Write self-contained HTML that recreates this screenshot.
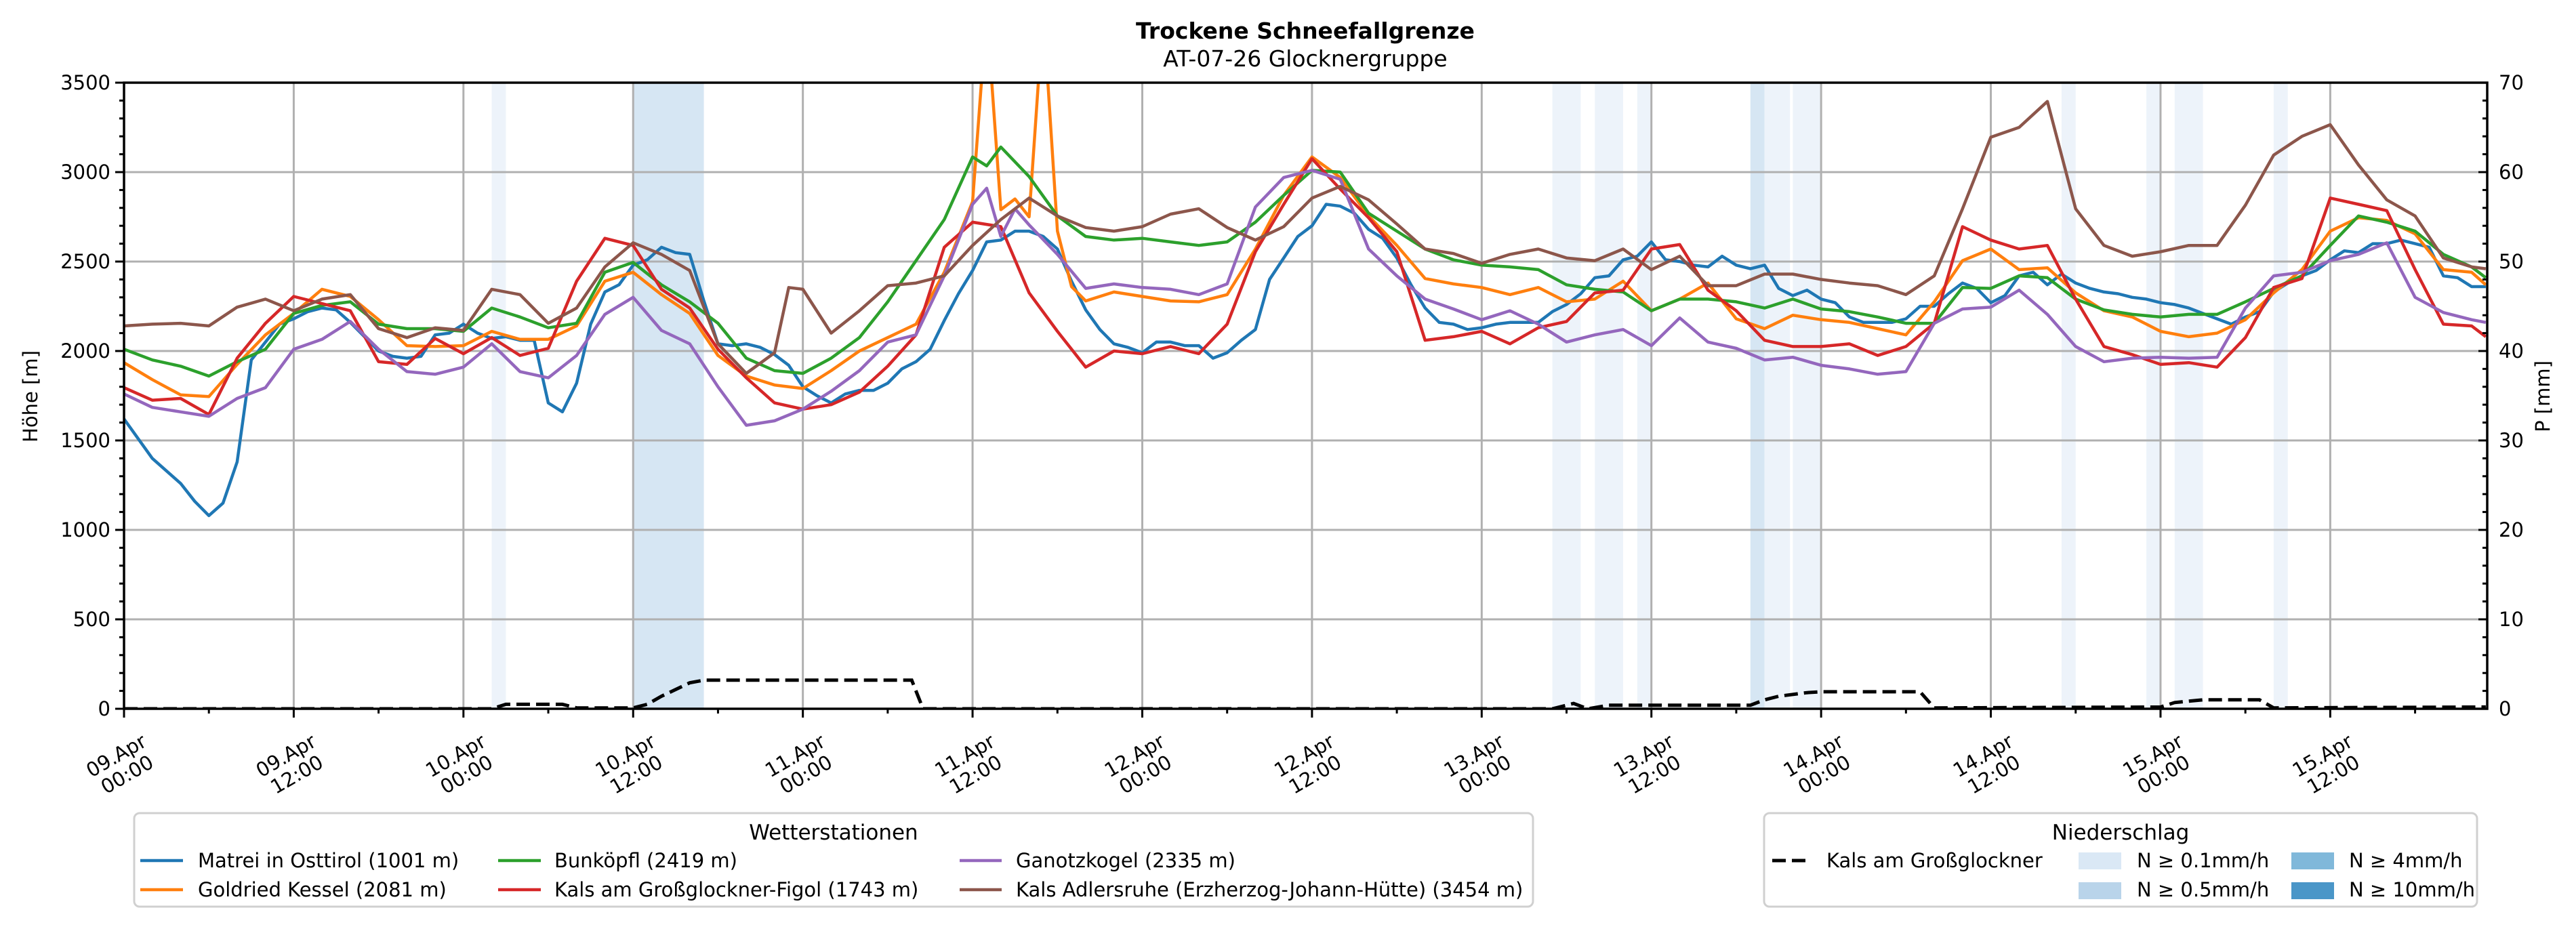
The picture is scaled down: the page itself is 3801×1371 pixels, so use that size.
<!DOCTYPE html>
<html><head><meta charset="utf-8">
<style>
html,body{margin:0;padding:0;background:#fff;}
svg{display:block;font-family:"DejaVu Sans","Liberation Sans",sans-serif;}
</style></head>
<body>
<svg id="chart" width="3801" height="1371" viewBox="0 0 3801 1371" xmlns="http://www.w3.org/2000/svg">
  <defs><clipPath id="plotclip"><rect x="183" y="122" width="3487" height="924"/></clipPath></defs>
  <rect width="3801" height="1371" fill="#fff"/>
  <g id="bands" clip-path="url(#plotclip)"></g>
  <g id="grid"></g>
  <g id="series" clip-path="url(#plotclip)"></g>
  <g id="axes"></g>
  <text x="1926" y="57" text-anchor="middle" font-size="33" font-weight="bold">Trockene Schneefallgrenze</text>
  <text x="1926" y="98" text-anchor="middle" font-size="33">AT-07-26 Glocknergruppe</text>
  <text transform="translate(55,585) rotate(-90)" text-anchor="middle" font-size="29">Höhe [m]</text>
  <text transform="translate(3762,585) rotate(-90)" text-anchor="middle" font-size="29">P [mm]</text>

  <g>
    <rect x="198" y="1200" width="2064" height="138" rx="8" fill="#fff" fill-opacity="0.8" stroke="#d0d0d0" stroke-width="3"/>
    <text x="1230" y="1239" text-anchor="middle" font-size="31">Wetterstationen</text>
    <g><line x1="207" y1="1270" x2="270" y2="1270" stroke="#1f77b4" stroke-width="4.5"/><text x="292" y="1280" font-size="29">Matrei in Osttirol (1001 m)</text></g>
    <g><line x1="207" y1="1313" x2="270" y2="1313" stroke="#ff7f0e" stroke-width="4.5"/><text x="292" y="1323" font-size="29">Goldried Kessel (2081 m)</text></g>
    <g><line x1="735" y1="1270" x2="798" y2="1270" stroke="#2ca02c" stroke-width="4.5"/><text x="818" y="1280" font-size="29">Bunköpfl (2419 m)</text></g>
    <g><line x1="735" y1="1313" x2="798" y2="1313" stroke="#d62728" stroke-width="4.5"/><text x="818" y="1323" font-size="29">Kals am Großglockner-Figol (1743 m)</text></g>
    <g><line x1="1416" y1="1270" x2="1478" y2="1270" stroke="#9467bd" stroke-width="4.5"/><text x="1499" y="1280" font-size="29">Ganotzkogel (2335 m)</text></g>
    <g><line x1="1416" y1="1313" x2="1478" y2="1313" stroke="#8c564b" stroke-width="4.5"/><text x="1499" y="1323" font-size="29">Kals Adlersruhe (Erzherzog-Johann-Hütte) (3454 m)</text></g>
  </g>

  <g>
    <rect x="2603" y="1200" width="1052" height="138" rx="8" fill="#fff" fill-opacity="0.8" stroke="#d0d0d0" stroke-width="3"/>
    <text x="3129" y="1239" text-anchor="middle" font-size="31">Niederschlag</text>
    <g><line x1="2615" y1="1270" x2="2672" y2="1270" stroke="#000" stroke-width="5" stroke-dasharray="20,9"/><text x="2695" y="1280" font-size="29">Kals am Großglockner</text></g>
    <g><rect x="3067" y="1258" width="63" height="25" fill="#dae8f5"/><text x="3153" y="1280" font-size="29">N ≥ 0.1mm/h</text></g>
    <g><rect x="3067" y="1302" width="63" height="25" fill="#b9d4ea"/><text x="3153" y="1323" font-size="29">N ≥ 0.5mm/h</text></g>
    <g><rect x="3381" y="1258" width="63" height="25" fill="#80b8da"/><text x="3466" y="1280" font-size="29">N ≥ 4mm/h</text></g>
    <g><rect x="3381" y="1302" width="63" height="25" fill="#4a96c8"/><text x="3466" y="1323" font-size="29">N ≥ 10mm/h</text></g>
  </g>
</svg>
<script>
// ---- data ----
const hoursMatrei = Array.from({length:168},(_,i)=>i);
const matrei = [1620,1510,1400,1330,1260,1160,1080,1150,1380,1950,2050,2150,2180,2220,2240,2230,2160,2080,2000,1970,1960,1970,2090,2100,2150,2100,2070,2080,2060,2060,1710,1660,1820,2150,2330,2370,2480,2510,2580,2550,2540,2280,2040,2030,2040,2020,1980,1920,1800,1750,1710,1760,1780,
1780,1820,1900,1940,2010,2170,2320,2450,2610,2620,2670,2670,2640,2570,2390,2230,2120,2040,2020,1990,2050,2050,2030,2030,1960,1990,2060,2120,2400,2520,2640,2700,2820,2810,2770,2680,2630,2520,2370,2240,2160,2150,2120,2130,2150,2160,2160,2160,2220,2260,2320,2410,2420,2510,2530,2610,2510,2500,2480,
2470,2530,2480,2460,2480,2350,2310,2340,2290,2270,2190,2160,2160,2160,2180,2250,2250,2320,2380,2350,2270,2310,2420,2440,2370,2430,2380,2350,2330,2320,2300,2290,2270,2260,2240,2210,2180,2150,2190,2220,2330,2380,2420,2450,2510,2560,2550,2600,2600,2620,2600,2580,2420,2410,2360,2360];

const hoursGoldried = [0,2,4,6,8,10,12,14,16,18,20,22,24,26,28,30,32,34,36,38,40,42,44,46,48,50,52,54,56,58,60,61,62,63,64,65,66,67,68,70,72,74,76,78,80,82,84,86,88,90,92,94,96,98,100,102,104,106,108,110,112,114,116,118,120,122,124,126,128,130,132,134,136,138,140,142,144,146,148,150,152,154,156,158,160,162,164,166,167];
const goldried = [1935,1840,1755,1745,1925,2090,2210,2345,2305,2175,2030,2025,2030,2110,2065,2065,2140,2390,2440,2315,2210,1975,1860,1810,1790,1890,2000,2075,2150,2440,2835,3900,2790,2850,2750,3900,2670,2360,2280,2330,2305,2280,2275,2315,2570,2870,3085,2970,2755,2590,2405,2375,2355,2315,2355,2275,2290,2390,2225,2290,2380,2180,2125,2200,2175,2160,2125,2090,2275,2505,2570,2455,2465,2325,2225,2190,2110,2080,2100,2175,2325,2455,2670,2745,2730,2655,2455,2440,2370];

const hoursBunkoepfl = [0,2,4,6,8,10,12,14,16,18,20,22,24,26,28,30,32,34,36,38,40,42,44,46,48,50,52,54,56,58,60,61,62,64,66,68,70,72,74,76,78,80,82,84,86,88,90,92,94,96,98,100,102,104,106,108,110,112,114,116,118,120,122,124,126,128,130,132,134,136,138,140,142,144,146,148,150,152,154,156,158,160,162,164,166,167];
const bunkoepfl = [2010,1950,1915,1860,1940,2010,2210,2255,2275,2150,2125,2125,2110,2240,2190,2130,2155,2440,2495,2370,2275,2155,1960,1890,1875,1960,2075,2275,2505,2735,3085,3035,3140,2975,2755,2640,2620,2630,2610,2590,2610,2720,2870,3010,3000,2770,2670,2570,2510,2480,2470,2455,2370,2345,2330,2225,2290,2290,2275,2240,2290,2235,2220,2190,2155,2155,2355,2350,2420,2410,2290,2230,2205,2190,2205,2205,2275,2350,2420,2590,2755,2720,2670,2540,2470,2410];

const hoursFigol = [0,2,4,6,8,10,12,14,16,18,20,22,24,26,28,30,32,34,36,38,40,42,44,46,48,50,52,54,56,58,60,62,64,66,68,70,72,74,76,78,80,82,84,86,88,90,92,94,96,98,100,102,104,106,108,110,112,114,116,118,120,122,124,126,128,130,132,134,136,138,140,142,144,146,148,150,152,154,156,158,160,162,164,166,167];
const figol = [1795,1725,1735,1645,1960,2155,2305,2265,2225,1940,1925,2070,1985,2075,1975,2015,2390,2630,2590,2345,2240,2010,1850,1710,1675,1700,1770,1915,2090,2580,2720,2695,2325,2110,1910,2000,1985,2025,1985,2150,2555,2820,3075,2905,2745,2555,2060,2080,2110,2040,2130,2165,2325,2340,2570,2595,2340,2225,2060,2025,2025,2040,1975,2025,2155,2695,2620,2570,2590,2290,2025,1980,1925,1935,1910,2075,2355,2405,2855,2820,2785,2455,2150,2140,2080];

const hoursGanotz = [0,2,4,6,8,10,12,14,16,18,20,22,24,26,28,30,32,34,36,38,40,42,44,46,48,50,52,54,56,58,60,61,62,63,64,66,68,70,72,74,76,78,80,82,84,86,88,90,92,94,96,98,100,102,104,106,108,110,112,114,116,118,120,122,124,126,128,130,132,134,136,138,140,142,144,146,148,150,152,154,156,158,160,162,164,166,167];
const ganotz = [1760,1685,1660,1635,1735,1795,2010,2065,2165,2010,1885,1870,1910,2040,1885,1850,1975,2205,2300,2115,2040,1800,1585,1610,1675,1775,1890,2050,2090,2420,2820,2910,2640,2795,2705,2540,2350,2375,2355,2345,2315,2375,2805,2970,3010,2960,2570,2420,2290,2235,2175,2225,2150,2050,2090,2120,2030,2185,2050,2015,1950,1965,1920,1900,1870,1885,2155,2235,2245,2340,2205,2025,1940,1960,1965,1960,1965,2240,2420,2440,2505,2540,2605,2300,2215,2175,2160];

const hoursAdler = [0,2,4,6,8,10,12,14,16,18,20,22,24,26,28,30,32,34,36,38,40,42,44,46,47,48,50,52,54,56,58,60,62,64,66,68,70,72,74,76,78,80,82,84,86,88,90,92,94,96,98,100,102,104,106,108,110,112,114,116,118,120,122,124,126,128,130,132,134,136,138,140,142,144,146,148,150,152,154,156,158,160,162,164,166,167];
const adler = [2140,2150,2155,2140,2245,2290,2225,2290,2315,2125,2075,2130,2115,2345,2315,2155,2240,2470,2605,2540,2450,2040,1875,1990,2355,2345,2100,2225,2365,2380,2420,2590,2735,2855,2755,2690,2670,2695,2765,2795,2690,2620,2695,2855,2920,2845,2710,2570,2545,2490,2540,2570,2520,2505,2570,2455,2530,2365,2365,2430,2430,2400,2380,2365,2315,2420,2795,3195,3250,3395,2795,2590,2530,2555,2590,2590,2815,3095,3200,3265,3040,2845,2755,2520,2470,2460];

const precipHours = [0,26,27,31,32,36,37,38,40,41,55.7,56.5,101,102.5,103.5,105,113,115,116,117,119,120,127,128,144,145,147,151,152,167];
const precipMm = [0,0,0.5,0.5,0.1,0.1,0.5,1.4,2.9,3.2,3.2,0,0,0.6,0,0.4,0.4,0.4,1.0,1.4,1.8,1.9,1.9,0.1,0.2,0.7,1.0,1.0,0.1,0.2];

const bandStart = [26,36,101,104,107,115,116,118,137,143,145,152];
const bandEnd   = [27,41,103,106,108,116,117.8,120,138,144,147,153];
const bandLevel = [1,2,1,1,1,2,1,1,1,1,1,1];

const yTicks = [0,500,1000,1500,2000,2500,3000,3500];
const pTicks = [0,10,20,30,40,50,60,70];
const xTickHours = [0,12,24,36,48,60,72,84,96,108,120,132,144,156];
const xTickDay = ["09.Apr","09.Apr","10.Apr","10.Apr","11.Apr","11.Apr","12.Apr","12.Apr","13.Apr","13.Apr","14.Apr","14.Apr","15.Apr","15.Apr"];
const xTickTime = ["00:00","12:00","00:00","12:00","00:00","12:00","00:00","12:00","00:00","12:00","00:00","12:00","00:00","12:00"];

// ---- scales ----
const X0=183, X1=3670, Y0=1046, Y1=122, TMAX=167.1;
const xs = t => X0 + t/TMAX*(X1-X0);
const ys = v => Y0 - v/3500*(Y0-Y1);
const yp = p => Y0 - p/70*(Y0-Y1);
const NS="http://www.w3.org/2000/svg";
function mk(tag, attrs, parent){const e=document.createElementNS(NS,tag);for(const k in attrs)e.setAttribute(k,attrs[k]);parent.appendChild(e);return e;}

// bands
const gB=document.getElementById('bands');
bandStart.forEach((s,i)=>{
  const r=mk('rect',{x:xs(s),y:Y1,width:xs(bandEnd[i])-xs(s),height:Y0-Y1,fill:bandLevel[i]===2?'#d6e6f3':'#edf3fa'},gB);
  
  
});

// grid
const gG=document.getElementById('grid');
yTicks.forEach(v=>{ if(v>0&&v<3500){const l=mk('line',{x1:X0,x2:X1,y1:ys(v),y2:ys(v),stroke:'#b0b0b0','stroke-width':3},gG);
  
  }});
xTickHours.forEach(t=>{ if(t>0){const l=mk('line',{x1:xs(t),x2:xs(t),y1:Y1,y2:Y0,stroke:'#b0b0b0','stroke-width':3},gG);
  
  }});

// series
const gS=document.getElementById('series');
function line(hours, vals, color, name){
  const d=hours.map((t,i)=>(i?'L':'M')+xs(t).toFixed(1)+','+ys(vals[i]).toFixed(1)).join('');
  const p=mk('path',{d:d,fill:'none',stroke:color,'stroke-width':4.5,'stroke-linejoin':'round'},gS);
  
  
}
line(hoursMatrei, matrei, '#1f77b4', 'line-matrei');
line(hoursGoldried, goldried, '#ff7f0e', 'line-goldried-kessel');
line(hoursBunkoepfl, bunkoepfl, '#2ca02c', 'line-bunkoepfl');
line(hoursFigol, figol, '#d62728', 'line-kals-figol');
line(hoursGanotz, ganotz, '#9467bd', 'line-ganotzkogel');
line(hoursAdler, adler, '#8c564b', 'line-adlersruhe');
{
  const d=precipHours.map((t,i)=>(i?'L':'M')+xs(t).toFixed(1)+','+yp(precipMm[i]).toFixed(1)).join('');
  const p=mk('path',{d:d,fill:'none',stroke:'#000','stroke-width':5,'stroke-dasharray':'20,9'},gS);
  
  
}

// axes
const gA=document.getElementById('axes');
mk('rect',{x:X0,y:Y1,width:X1-X0,height:Y0-Y1,fill:'none',stroke:'#000','stroke-width':3.5},gA);
for(let v=0;v<=3500;v+=100){const maj=v%500===0;mk('line',{x1:X0-(maj?13:7),x2:X0,y1:ys(v),y2:ys(v),stroke:'#000','stroke-width':3},gA);}
for(let p=0;p<=70;p+=2){const maj=p%10===0;mk('line',{x1:X1-(maj?13:7),x2:X1,y1:yp(p),y2:yp(p),stroke:'#000','stroke-width':3},gA);}
for(let t=0;t<=166;t+=6){const maj=t%12===0;mk('line',{x1:xs(t),x2:xs(t),y1:Y0,y2:Y0+(maj?13:7),stroke:'#000','stroke-width':3},gA);}
yTicks.forEach(v=>{const e=mk('text',{x:X0-20,y:ys(v)+10,'text-anchor':'end','font-size':29},gA);e.textContent=v;
  
  });
pTicks.forEach(v=>{const e=mk('text',{x:X1+17,y:yp(v)+10,'font-size':29},gA);e.textContent=v;
  
  });
xTickHours.forEach((t,i)=>{
  const g=mk('g',{transform:`translate(${xs(t)-3},1130) rotate(-30)`},gA);
  
  
  const a=mk('text',{x:0,y:-7,'text-anchor':'middle','font-size':29},g);a.textContent=xTickDay[i];
  const b=mk('text',{x:0,y:25,'text-anchor':'middle','font-size':29},g);b.textContent=xTickTime[i];
});
</script>
</body></html>
